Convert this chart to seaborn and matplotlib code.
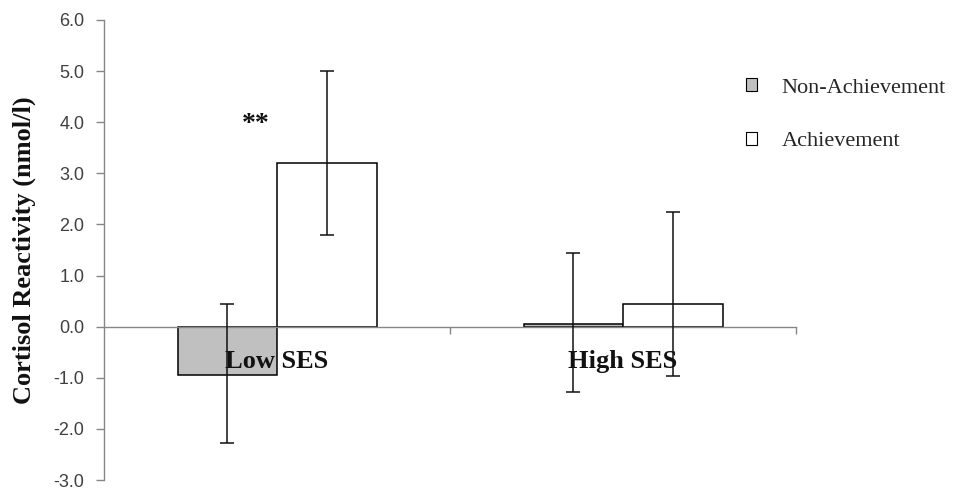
import matplotlib
matplotlib.use("Agg")
import matplotlib.pyplot as plt
import seaborn as sns
import pandas as pd

# Cortisol reactivity by SES group and condition
ses_groups = ["Low SES", "High SES"]
conditions = ["Non-Achievement", "Achievement"]
means = {
    "Non-Achievement": [-0.95, 0.05],
    "Achievement": [3.2, 0.45],
}
err_lower = {
    "Non-Achievement": [-2.27, -1.28],
    "Achievement": [1.8, -0.97],
}
err_upper = {
    "Non-Achievement": [0.45, 1.45],
    "Achievement": [5.0, 2.25],
}
y_ticks = [-3, -2, -1, 0, 1, 2, 3, 4, 5, 6]

rows = []
for cond in conditions:
    for g, v in zip(ses_groups, means[cond]):
        rows.append({"SES": g, "Condition": cond, "value": v})
df = pd.DataFrame(rows)

sns.set_theme(style="white")
serif = ["Liberation Serif", "DejaVu Serif"]
sans = ["Liberation Sans", "DejaVu Sans"]

fig = plt.figure(figsize=(9.79, 4.90), dpi=100)
ax = fig.add_axes([0.1063, 0.0204, 0.7068, 0.9388])

sns.barplot(
    data=df, x="SES", y="value", hue="Condition",
    order=ses_groups, hue_order=conditions,
    palette=["#c0c0c0", "#ffffff"], edgecolor="black", linewidth=1.1,
    width=0.575, errorbar=None, ax=ax, legend=True, saturation=1,
)

# asymmetric error bars centred on each bar
for cont, cond in zip(ax.containers, conditions):
    for bar, v, lo, hi in zip(cont.patches, means[cond], err_lower[cond], err_upper[cond]):
        xc = bar.get_x() + bar.get_width() / 2
        ax.errorbar(xc, v, yerr=[[v - lo], [hi - v]], fmt="none",
                    ecolor="#111111", elinewidth=1.1, capsize=5, capthick=1.1, zorder=5)

ax.set_xlim(-0.5, 1.5)
ax.set_ylim(-3, 6)
ax.set_yticks(y_ticks)
ax.set_yticklabels([f"{t:.1f}" for t in y_ticks], family=sans, fontsize=13, color="#404040")
ax.tick_params(axis="y", which="major", direction="out", length=6, width=1, color="#868686", left=True, pad=8)

ax.spines["bottom"].set_position(("data", 0))
for s in ("top", "right"):
    ax.spines[s].set_visible(False)
for s in ("left", "bottom"):
    ax.spines[s].set_color("#868686")
    ax.spines[s].set_linewidth(1.0)

ax.set_xticks([0.5, 1.5], minor=True)
ax.tick_params(axis="x", which="minor", direction="out", length=5, width=1, color="#868686", bottom=True)
ax.set_xticks([])
ax.set_xlabel("")

# category labels sit just under the zero line
for i, g in enumerate(ses_groups):
    ax.text(i, -0.68, g, ha="center", va="center", family=serif,
            fontweight="bold", fontsize=19, color="#111111")

ax.text(-0.061, 3.95, "**", ha="center", va="center", family=serif,
        fontweight="bold", fontsize=20, color="#111111")

ax.set_ylabel("Cortisol Reactivity (nmol/l)", family=serif, fontweight="bold",
              fontsize=19, color="#111111", labelpad=13)

handles, labels = ax.get_legend_handles_labels()
for h in handles:
    h.set_linewidth(0.8)
ax.legend(handles, labels, loc="upper left", bbox_to_anchor=(0.762, 0.84),
          bbox_transform=fig.transFigure, frameon=False,
          prop={"family": serif, "size": 16}, handlelength=0.5, handleheight=0.5,
          handletextpad=1.1, labelspacing=1.55, borderaxespad=0, borderpad=0)

fig.savefig("out.png", dpi=100)
